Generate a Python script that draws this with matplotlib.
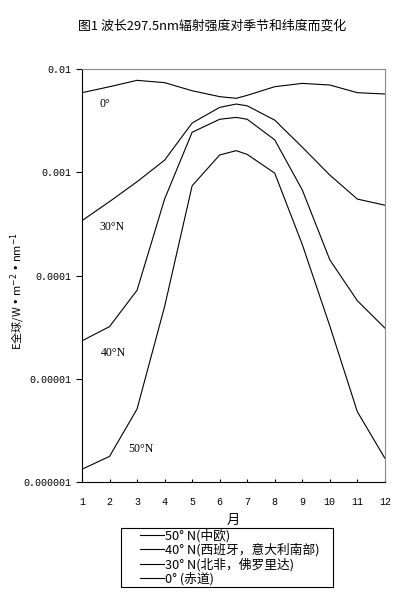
import matplotlib
matplotlib.use("Agg")
from matplotlib import pyplot as plt
from matplotlib.patches import Rectangle

# 月份 (6.6 为夏至附近的峰值位置)
months = [1, 2, 3, 4, 5, 6, 6.6, 7, 8, 9, 10, 11, 12]
# 辐射强度 W·m-2·nm-1
n50 = [1.33e-6, 1.77e-6, 5.1e-6, 5.0e-5, 7.4e-4, 1.47e-3, 1.62e-3, 1.49e-3, 9.8e-4, 2.0e-4, 3.25e-5, 4.8e-6, 1.7e-6]
n40 = [2.33e-5, 3.2e-5, 7.2e-5, 5.5e-4, 2.44e-3, 3.26e-3, 3.4e-3, 3.26e-3, 2.06e-3, 6.75e-4, 1.42e-4, 5.7e-5, 3.1e-5]
n30 = [3.4e-4, 5.2e-4, 8.1e-4, 1.31e-3, 3.0e-3, 4.25e-3, 4.58e-3, 4.4e-3, 3.2e-3, 1.75e-3, 9.4e-4, 5.5e-4, 4.8e-4]
n0 = [5.9e-3, 6.74e-3, 7.77e-3, 7.38e-3, 6.16e-3, 5.4e-3, 5.2e-3, 5.56e-3, 6.74e-3, 7.26e-3, 7.0e-3, 5.9e-3, 5.73e-3]

legend_names = ["50° N(中欧)", "40° N(西班牙，意大利南部)", "30° N(北非，佛罗里达)", "0° (赤道)"]
curve_names = ["50°N", "40°N", "30°N", "0°"]
y_ticks = [1e-6, 1e-5, 1e-4, 1e-3, 1e-2]
y_ticklabels = ["0.000001", "0.00001", "0.0001", "0.001", "0.01"]

plt.rcParams['font.family'] = ['Noto Sans CJK SC', 'DejaVu Sans']
plt.rcParams['axes.unicode_minus'] = False

fig = plt.figure(figsize=(3.98, 6.06), dpi=100)
ax = fig.add_axes([0.206, 0.2046, 0.761, 0.6815])

lines = []
for vals in [n50, n40, n30, n0]:
    ln, = ax.plot(months, vals, color='black', linewidth=0.8)
    lines.append(ln)

ax.set_yscale('log')
ax.set_xlim(1, 12)
ax.set_ylim(1e-6, 1e-2)
ax.set_yticks(y_ticks)
ax.set_yticklabels(y_ticklabels, family='Liberation Mono', fontsize=7.2)
ax.minorticks_off()
ax.set_xticks(range(1, 13))
ax.set_xticklabels([str(m) for m in range(1, 13)], family='Liberation Mono', fontsize=7.2)
ax.tick_params(axis='x', direction='in', length=2.5, width=0.8, pad=11)
ax.tick_params(axis='y', direction='out', length=4, width=0.8, pad=4)

for s in ['top', 'right']:
    ax.spines[s].set_color('#8a8a8a')
for s in ['left', 'bottom']:
    ax.spines[s].set_color('black')
for s in ax.spines.values():
    s.set_linewidth(0.8)

# 曲线标注
label_pos = [(2.67, 2.1e-6), (1.68, 1.78e-5), (1.65, 2.97e-4), (1.65, 4.58e-3)]
for name, (lx, ly) in zip(curve_names, label_pos):
    ax.text(lx, ly, name, family='Liberation Serif', fontsize=8.5, ha='left', va='center')

ax.set_xlabel("月", fontsize=9.5, labelpad=5)
fig.text(0.045, 0.52, "E全球/W • m$^{-2}$ • nm$^{-1}$", rotation=90,
         ha='center', va='center', fontsize=8)

fig.text(0.533, 0.957, "图1 波长297.5nm辐射强度对季节和纬度而变化", ha='center', va='center', fontsize=9.3)

# 图例
fig.patches.append(Rectangle((121 / 398, 1 - 587 / 606), 212 / 398, 59 / 606,
                             transform=fig.transFigure, fill=False,
                             edgecolor='black', linewidth=0.8))
leg = ax.legend(lines, legend_names, loc='upper left', bbox_to_anchor=(139 / 398, 1 - 528 / 606),
                bbox_transform=fig.transFigure, frameon=False,
                handlelength=1.9, handletextpad=0.1,
                borderpad=0.05, labelspacing=0.08, fontsize=9.2, borderaxespad=0)
leg._legend_box.align = "left"

plt.savefig('out.png', dpi=100)
